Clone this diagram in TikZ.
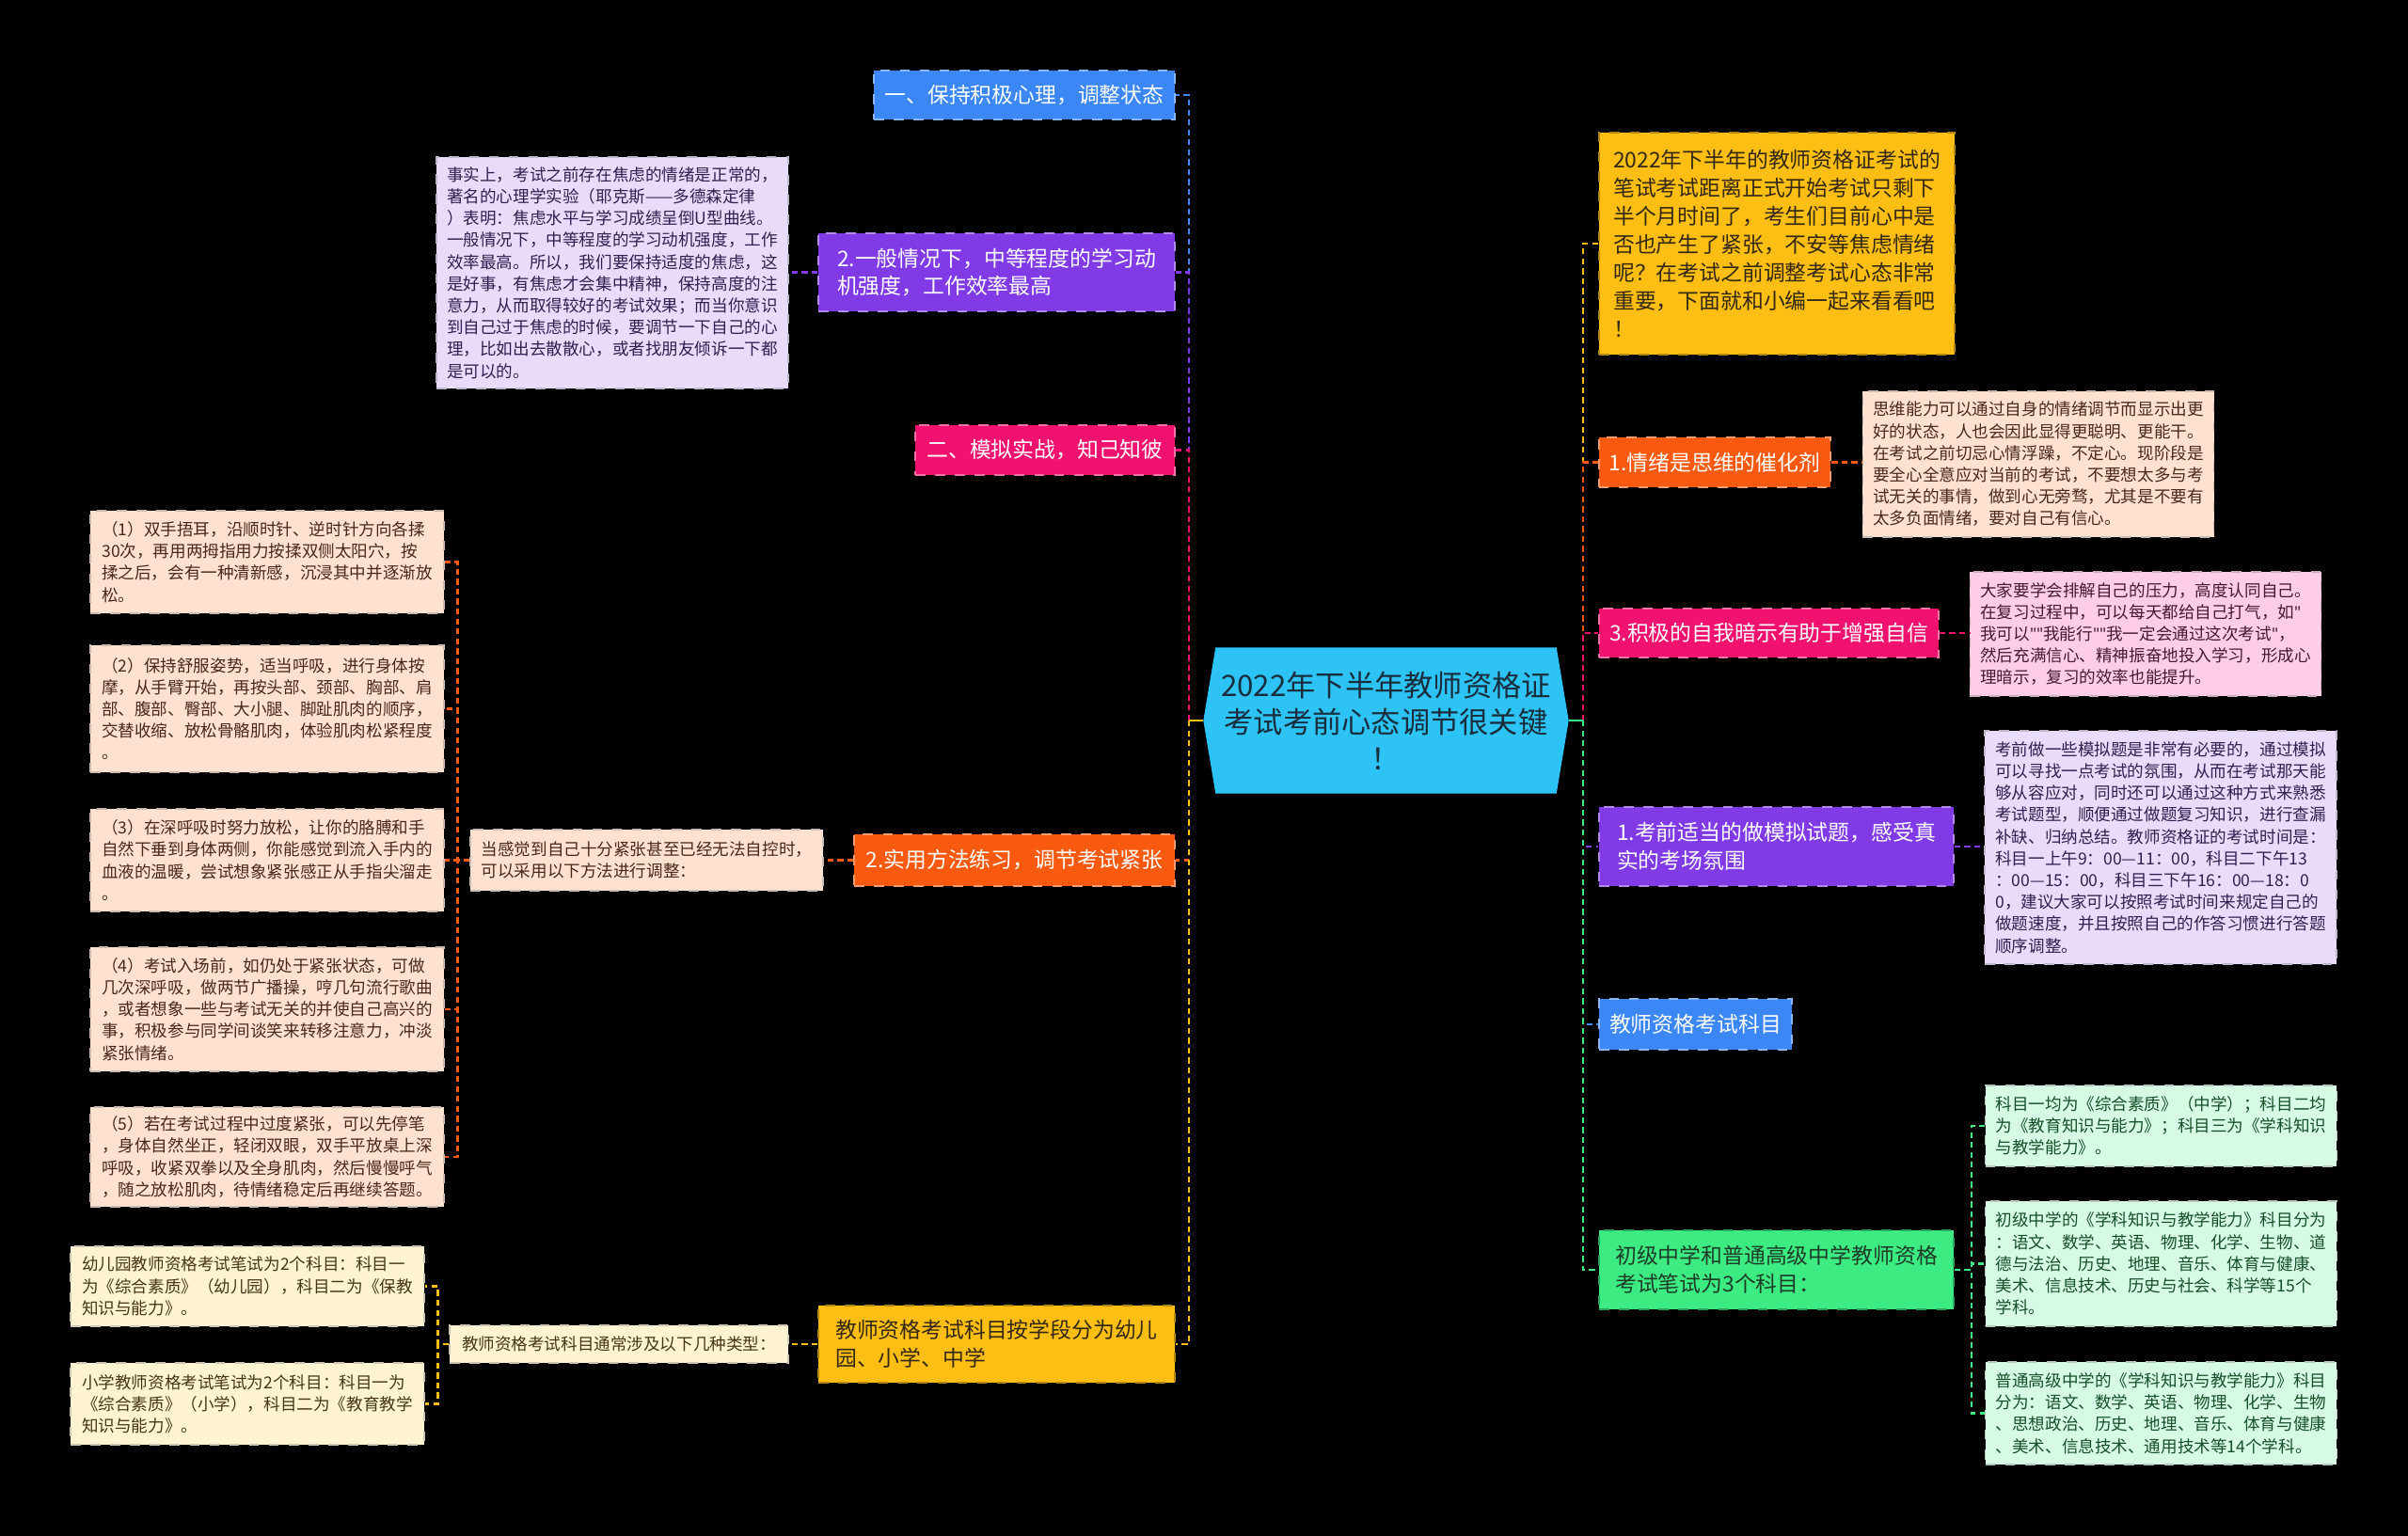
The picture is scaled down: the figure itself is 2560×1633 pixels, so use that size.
\documentclass[tikz,border=0pt]{standalone}
\usepackage{fontspec}
\setmainfont{Noto Sans CJK SC}
\newfontfamily\quotefont{Noto Sans}
\usetikzlibrary{backgrounds}
\definecolor{cblue}{RGB}{58,135,245}
\definecolor{cpurple}{RGB}{128,58,230}
\definecolor{cpink}{RGB}{240,18,110}
\definecolor{corange}{RGB}{250,90,15}
\definecolor{cgold}{RGB}{255,190,20}
\definecolor{cgreen}{RGB}{60,235,130}
\definecolor{croot}{RGB}{45,195,245}
\definecolor{clavender}{RGB}{232,220,250}
\definecolor{cpeach}{RGB}{255,225,208}
\definecolor{cpinklight}{RGB}{255,205,230}
\definecolor{cyellowlight}{RGB}{255,243,210}
\definecolor{cgreenlight}{RGB}{215,250,228}
\definecolor{troot}{RGB}{25,45,60}
\definecolor{tgold}{RGB}{50,40,20}
\definecolor{tgreen}{RGB}{30,60,40}
\definecolor{tlavender}{RGB}{50,30,80}
\definecolor{tpeach}{RGB}{70,40,30}
\definecolor{tpink}{RGB}{70,25,50}
\definecolor{tyellow}{RGB}{70,55,20}
\definecolor{tgreenlight}{RGB}{20,80,40}
\newcommand\leaffont{\fontsize{5}{6.6}\selectfont}
\newcommand\branchfont{\fontsize{6.5}{8.5}\selectfont}
\newcommand\rootfont{\fontsize{8.9}{11.1}\selectfont}
\newcommand\dq{{\quotefont"}}
\tikzset{every node/.style={align=left}}
\tikzstyle{branch} = [rectangle, dashed, line width=0.5pt, inner xsep=1.1mm, inner ysep=0pt, text=white, font=\branchfont]
\tikzstyle{leaf} = [rectangle, dashed, line width=0.4pt, inner xsep=1.1mm, inner ysep=0pt, font=\leaffont]
\tikzstyle{link} = [line width=0.7pt, dash pattern=on 1.8pt off 1.2pt]
\tikzstyle{stub} = [line width=0.7pt]

\begin{document}
\begin{tikzpicture}[x=0.1mm, y=-0.1mm]
		\useasboundingbox (0,0) rectangle (2560,1633);

		% Root
		\node[align=center, text=troot, font=\rootfont, minimum width=38.7mm, minimum height=15.4mm] (root) at (1473.5,766) {2022年下半年教师资格证\\考试考前心态调节很关键\\！};
		\begin{scope}[on background layer]
			\fill[black] (0,0) rectangle (2560,1633);
			\fill[croot] (root.west) -- ([xshift=1.3mm]root.north west) -- ([xshift=-1.3mm]root.north east) -- (root.east) -- ([xshift=-1.3mm]root.south east) -- ([xshift=1.3mm]root.south west) -- cycle;
		\end{scope}
		\coordinate (lt) at (1264,766);
		\coordinate (rt) at (1683,766);

		% Left side
		\node[branch, fill=cblue, draw=cblue!60!white, minimum width=32mm, minimum height=5.2mm] (l1) at (1089,101) {一、保持积极心理，调整状态};
		\node[branch, fill=cpurple, draw=cpurple!60!white, minimum width=37.9mm, minimum height=8.3mm] (l2) at (1059.5,289.5) {2.一般情况下，中等程度的学习动\\机强度，工作效率最高};
		\node[branch, fill=cpink, draw=cpink!60!white, minimum width=27.6mm, minimum height=5.3mm] (l3) at (1111,478.5) {二、模拟实战，知己知彼};
		\node[branch, fill=corange, draw=corange!60!white, minimum width=34.1mm, minimum height=5.5mm] (l4) at (1078.5,914.5) {2.实用方法练习，调节考试紧张};
		\node[branch, fill=cgold, draw=cgold!70!black, text=tgold, minimum width=37.9mm, minimum height=8.2mm] (l5) at (1059.5,1429) {教师资格考试科目按学段分为幼儿\\园、小学、中学};

		%% Leaves of the left side
		\node[leaf, fill=clavender, draw=clavender!60!gray, text=tlavender, minimum width=37.4mm, minimum height=24.6mm] (l2c) at (651,290) {事实上，考试之前存在焦虑的情绪是正常的，\\著名的心理学实验（耶克斯——多德森定律\\）表明：焦虑水平与学习成绩呈倒U型曲线。\\一般情况下，中等程度的学习动机强度，工作\\效率最高。所以，我们要保持适度的焦虑，这\\是好事，有焦虑才会集中精神，保持高度的注\\意力，从而取得较好的考试效果；而当你意识\\到自己过于焦虑的时候，要调节一下自己的心\\理，比如出去散散心，或者找朋友倾诉一下都\\是可以的。};
		\node[leaf, fill=cpeach, draw=cpeach!60!gray, text=tpeach, minimum width=37.5mm, minimum height=6.5mm] (l4c) at (687.5,914.5) {当感觉到自己十分紧张甚至已经无法自控时，\\可以采用以下方法进行调整：};
		\node[leaf, fill=cpeach, draw=cpeach!60!gray, text=tpeach, minimum width=37.6mm, minimum height=10.9mm] (l4k1) at (284,597.5) {（1）双手捂耳，沿顺时针、逆时针方向各揉\\30次，再用两拇指用力按揉双侧太阳穴，按\\揉之后，会有一种清新感，沉浸其中并逐渐放\\松。};
		\node[leaf, fill=cpeach, draw=cpeach!60!gray, text=tpeach, minimum width=37.6mm, minimum height=13.5mm] (l4k2) at (284,753.5) {（2）保持舒服姿势，适当呼吸，进行身体按\\摩，从手臂开始，再按头部、颈部、胸部、肩\\部、腹部、臀部、大小腿、脚趾肌肉的顺序，\\交替收缩、放松骨骼肌肉，体验肌肉松紧程度\\。};
		\node[leaf, fill=cpeach, draw=cpeach!60!gray, text=tpeach, minimum width=37.6mm, minimum height=10.9mm] (l4k3) at (284,914.5) {（3）在深呼吸时努力放松，让你的胳膊和手\\自然下垂到身体两侧，你能感觉到流入手内的\\血液的温暖，尝试想象紧张感正从手指尖溜走\\。};
		\node[leaf, fill=cpeach, draw=cpeach!60!gray, text=tpeach, minimum width=37.6mm, minimum height=13.2mm] (l4k4) at (284,1073) {（4）考试入场前，如仍处于紧张状态，可做\\几次深呼吸，做两节广播操，哼几句流行歌曲\\，或者想象一些与考试无关的并使自己高兴的\\事，积极参与同学间谈笑来转移注意力，冲淡\\紧张情绪。};
		\node[leaf, fill=cpeach, draw=cpeach!60!gray, text=tpeach, minimum width=37.6mm, minimum height=10.6mm] (l4k5) at (284,1230) {（5）若在考试过程中过度紧张，可以先停笔\\，身体自然坐正，轻闭双眼，双手平放桌上深\\呼吸，收紧双拳以及全身肌肉，然后慢慢呼气\\，随之放松肌肉，待情绪稳定后再继续答题。};
		\node[leaf, fill=cyellowlight, draw=cyellowlight!60!gray, text=tyellow, minimum width=36mm, minimum height=4mm] (l5c) at (658,1429) {教师资格考试科目通常涉及以下几种类型：};
		\node[leaf, fill=cyellowlight, draw=cyellowlight!60!gray, text=tyellow, minimum width=37.6mm, minimum height=8.5mm] (l5k1) at (263,1367.5) {幼儿园教师资格考试笔试为2个科目：科目一\\为《综合素质》（幼儿园），科目二为《保教\\知识与能力》。};
		\node[leaf, fill=cyellowlight, draw=cyellowlight!60!gray, text=tyellow, minimum width=37.6mm, minimum height=8.7mm] (l5k2) at (263,1492.5) {小学教师资格考试笔试为2个科目：科目一为\\《综合素质》（小学），科目二为《教育教学\\知识与能力》。};

		% Right side
		\node[branch, fill=cgold, draw=cgold!70!black, text=tgold, minimum width=37.8mm, minimum height=23.6mm] (r1) at (1889,259) {2022年下半年的教师资格证考试的\\笔试考试距离正式开始考试只剩下\\半个月时间了，考生们目前心中是\\否也产生了紧张，不安等焦虑情绪\\呢？在考试之前调整考试心态非常\\重要，下面就和小编一起来看看吧\\！};
		\node[branch, fill=corange, draw=corange!60!white, minimum width=24.6mm, minimum height=5.3mm] (r2) at (1823,491.5) {1.情绪是思维的催化剂};
		\node[branch, fill=cpink, draw=cpink!60!white, minimum width=36.1mm, minimum height=5.2mm] (r3) at (1880.5,673) {3.积极的自我暗示有助于增强自信};
		\node[branch, fill=cpurple, draw=cpurple!60!white, minimum width=37.7mm, minimum height=8.4mm] (r4) at (1888.5,900) {1.考前适当的做模拟试题，感受真\\实的考场氛围};
		\node[branch, fill=cblue, draw=cblue!60!white, minimum width=20.5mm, minimum height=5.4mm] (r5) at (1802.5,1089) {教师资格考试科目};
		\node[branch, fill=cgreen, draw=cgreen!70!black, text=tgreen, minimum width=37.7mm, minimum height=8.4mm] (r6) at (1888.5,1350) {初级中学和普通高级中学教师资格\\考试笔试为3个科目：};

		%% Leaves of the right side
		\node[leaf, fill=cpeach, draw=cpeach!60!gray, text=tpeach, minimum width=37.2mm, minimum height=15.5mm] (r2c) at (2167,493.5) {思维能力可以通过自身的情绪调节而显示出更\\好的状态，人也会因此显得更聪明、更能干。\\在考试之前切忌心情浮躁，不定心。现阶段是\\要全心全意应对当前的考试，不要想太多与考\\试无关的事情，做到心无旁骛，尤其是不要有\\太多负面情绪，要对自己有信心。};
		\node[leaf, fill=cpinklight, draw=cpinklight!60!gray, text=tpink, minimum width=37.2mm, minimum height=13.2mm] (r3c) at (2281,674) {大家要学会排解自己的压力，高度认同自己。\\在复习过程中，可以每天都给自己打气，如\dq\\我可以\dq\dq 我能行\dq\dq 我一定会通过这次考试\dq，\\然后充满信心、精神振奋地投入学习，形成心\\理暗示，复习的效率也能提升。};
		\node[leaf, fill=clavender, draw=clavender!60!gray, text=tlavender, minimum width=37.4mm, minimum height=24.8mm] (r4c) at (2297,901) {考前做一些模拟题是非常有必要的，通过模拟\\可以寻找一点考试的氛围，从而在考试那天能\\够从容应对，同时还可以通过这种方式来熟悉\\考试题型，顺便通过做题复习知识，进行查漏\\补缺、归纳总结。教师资格证的考试时间是：\\科目一上午9：00—11：00，科目二下午13\\：00—15：00，科目三下午16：00—18：0\\0，建议大家可以按照考试时间来规定自己的\\做题速度，并且按照自己的作答习惯进行答题\\顺序调整。};
		\node[leaf, fill=cgreenlight, draw=cgreenlight!60!gray, text=tgreenlight, minimum width=37.3mm, minimum height=8.6mm] (r6a) at (2297.5,1197) {科目一均为《综合素质》（中学）；科目二均\\为《教育知识与能力》；科目三为《学科知识\\与教学能力》。};
		\node[leaf, fill=cgreenlight, draw=cgreenlight!60!gray, text=tgreenlight, minimum width=37.3mm, minimum height=13.3mm] (r6b) at (2297.5,1343.5) {初级中学的《学科知识与教学能力》科目分为\\：语文、数学、英语、物理、化学、生物、道\\德与法治、历史、地理、音乐、体育与健康、\\美术、信息技术、历史与社会、科学等15个\\学科。};
		\node[leaf, fill=cgreenlight, draw=cgreenlight!60!gray, text=tgreenlight, minimum width=37.3mm, minimum height=10.9mm] (r6c) at (2297.5,1502.5) {普通高级中学的《学科知识与教学能力》科目\\分为：语文、数学、英语、物理、化学、生物\\、思想政治、历史、地理、音乐、体育与健康\\、美术、信息技术、通用技术等14个学科。};

		% Connectors
		\draw[link, cblue] (lt) |- (l1.east);
		\draw[link, cpurple] (lt) |- (l2.east);
		\draw[link, cpink] (lt) |- (l3.east);
		\draw[link, corange] (lt) |- (l4.east);
		\draw[link, cgold] (lt) |- (l5.east);
		\draw[stub, cgold] (root.west) -- (lt);
		\draw[link, cgold] (rt) |- (r1.west);
		\draw[link, corange] (rt) |- (r2.west);
		\draw[link, cpink] (rt) |- (r3.west);
		\draw[link, cpurple] (rt) |- (r4.west);
		\draw[link, cblue] (rt) |- (r5.west);
		\draw[link, cgreen] (rt) |- (r6.west);
		\draw[stub, cgreen] (root.east) -- (rt);
		%% Leaves
		\draw[link, cpurple] (l2.west) -- (l2.west -| l2c.east);
		\draw[link, corange] (l4.west) -- (l4.west -| l4c.east);
		\foreach \k in {1,...,5}
			\draw[link, corange] (l4c.west) -- ++(-13,0) |- (l4k\k.east);
		\draw[link, cgold] (l5.west) -- (l5.west -| l5c.east);
		\foreach \k in {1,2}
			\draw[link, cgold] (l5c.west) -- ++(-12,0) |- (l5k\k.east);
		\draw[link, corange] (r2.east) -- (r2.east -| r2c.west);
		\draw[link, cpink] (r3.east) -- (r3.east -| r3c.west);
		\draw[link, cpurple] (r4.east) -- (r4.east -| r4c.west);
		\foreach \k in {a,b,c}
			\draw[link, cgreen] (r6.east) -- ++(18,0) |- (r6\k.west);
	\end{tikzpicture}
\end{document}
